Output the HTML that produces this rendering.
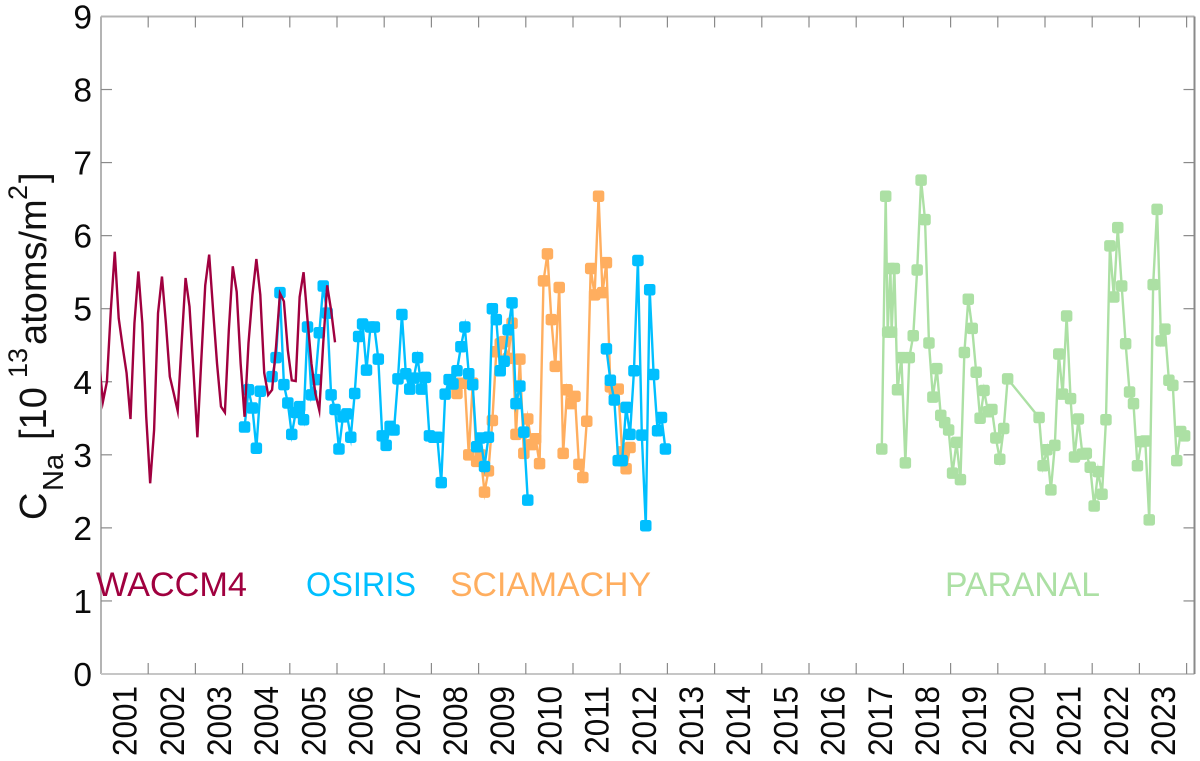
<!DOCTYPE html>
<html lang="en">
<head>
<meta charset="utf-8">
<title>Sodium column abundance chart</title>
<style>
html,body{margin:0;padding:0;background:#fff;width:1200px;height:761px;overflow:hidden}
svg{display:block}
text{font-family:"Liberation Sans",sans-serif}
</style>
</head>
<body>
<svg id="chart" xmlns="http://www.w3.org/2000/svg" width="1200" height="761" viewBox="0 0 1200 761">
  <defs>
    <clipPath id="plot-clip"><rect x="101" y="16" width="1094" height="658"></rect></clipPath>
  </defs>
  <g id="axes"></g>
  <g id="series" clip-path="url(#plot-clip)"></g>
  <text transform="translate(46,520) rotate(-90)" font-size="38" fill="#111">C<tspan font-size="29" x="29" dy="17">Na</tspan><tspan x="80" dy="-17">[10</tspan><tspan font-size="27" x="142" dy="-19">13</tspan><tspan x="175" dy="19">atoms/m</tspan><tspan font-size="27" x="320" dy="-19">2</tspan><tspan x="337" dy="19">]</tspan></text>
  <text x="96" y="596" font-size="34" fill="#A0003F" textLength="151" lengthAdjust="spacingAndGlyphs">WACCM4</text>
  <text x="306" y="596" font-size="34" fill="#00BFFF" textLength="110" lengthAdjust="spacingAndGlyphs">OSIRIS</text>
  <text x="450" y="596" font-size="34" fill="#FFAE5F" textLength="201" lengthAdjust="spacingAndGlyphs">SCIAMACHY</text>
  <text x="945" y="596" font-size="34" fill="#ACE0A4" textLength="155" lengthAdjust="spacingAndGlyphs">PARANAL</text>
</svg>
<script>
const yearLabels = [2001,2002,2003,2004,2005,2006,2007,2008,2009,2010,2011,2012,2013,2014,2015,2016,2017,2018,2019,2020,2021,2022,2023];
const yTickLabels = [0,1,2,3,4,5,6,7,8,9];

const waccmStartMonth = -1;
const waccmValues = [4.27,3.73,4.00,4.98,5.78,4.87,4.48,4.12,3.49,4.80,5.51,4.80,3.52,2.61,3.34,4.94,5.44,4.80,4.07,3.84,3.60,4.53,5.42,5.03,4.16,3.24,4.30,5.32,5.74,4.98,4.25,3.66,3.58,4.71,5.58,5.23,4.25,3.52,4.53,5.19,5.68,5.19,4.12,3.82,3.89,4.48,5.21,5.10,4.43,4.02,4.01,5.16,5.50,4.85,4.25,3.84,3.61,4.53,5.32,4.98,4.54];

const osirisStartMonth = 36;
const osirisValues = [3.38,3.89,3.64,3.09,3.87,null,null,4.07,4.33,5.22,3.96,3.71,3.28,3.58,3.66,3.48,4.75,3.82,4.03,4.67,5.31,4.94,3.82,3.62,3.08,3.52,3.56,3.24,3.84,4.62,4.79,4.16,4.75,4.75,4.31,3.26,3.13,3.39,3.34,4.04,4.92,4.11,3.90,4.05,4.33,3.90,4.06,3.26,3.24,3.24,2.62,3.83,4.03,3.97,4.15,4.48,4.75,4.11,3.96,3.11,3.23,2.84,3.24,5.00,4.85,4.15,4.28,4.71,5.08,3.70,3.94,3.31,2.38,null,null,null,null,null,null,null,null,null,null,null,null,null,null,null,null,null,null,null,4.45,4.02,3.75,2.92,2.92,3.65,3.28,4.15,5.66,3.27,2.03,5.26,4.10,3.33,3.51,3.08];

const sciamachyStartMonth = 90;
const sciamachyValues = [3.84,3.98,3.98,3.00,3.98,2.91,3.00,2.49,2.78,3.47,4.41,4.52,4.55,4.32,4.80,3.28,4.31,3.02,3.49,3.14,3.22,2.88,5.38,5.75,4.85,4.21,5.29,3.02,3.89,3.70,3.80,2.87,2.69,3.46,5.55,5.19,6.54,5.22,5.63,3.93,3.88,3.90,3.04,2.81,3.10];

const paranalMonths = [198,199,199.5,200.2,200.5,201.2,202,203,204,205,206,207,208,209,210,211,212,213,214,215,216,217,218,219,220,221,222,223,224,225,226,227,228,229,230,238,239,240,241,242,243,244,245,246,247,248,249,250,251,252,253,254,255,256,257,258,259,260,261,262,263,264,265,266,267,268,269,270,271,272,273,274,275];
const paranalValues = [3.08,6.54,4.68,5.55,4.68,5.55,3.89,4.33,2.89,4.33,4.63,5.53,6.76,6.22,4.53,3.79,4.18,3.54,3.44,3.34,2.75,3.17,2.66,4.40,5.13,4.73,4.13,3.50,3.88,3.59,3.62,3.23,2.94,3.36,4.04,3.51,2.85,3.07,2.52,3.13,4.38,3.83,4.90,3.77,2.97,3.49,3.01,3.02,2.83,2.30,2.77,2.46,3.48,5.86,5.16,6.11,5.31,4.52,3.86,3.70,2.85,3.18,3.19,2.11,5.33,6.36,4.56,4.72,4.02,3.95,2.92,3.32,3.26];

const NS = 'http://www.w3.org/2000/svg';
const axes = document.getElementById('axes');
const seriesRoot = document.getElementById('series');

function xYear(t){ return 101 + 47.2 * (t - 2001); }
function xMonth(m){ return xYear(2001 + (m + 0.5) / 12); }
function yVal(v){ return 674 - 73.06 * v; }

function mk(tag, attrs, parent){
  const el = document.createElementNS(NS, tag);
  for (const k in attrs) el.setAttribute(k, attrs[k]);
  parent.appendChild(el);
  return el;
}

// frame
const L = xYear(2001), R = 1194.5, T = yVal(9), B = yVal(0);
const frameLeft = mk('line', {x1:L,y1:T,x2:L,y2:B,stroke:'#b4b4b4','stroke-width':2}, axes);


const frameBottom = mk('line', {x1:L,y1:B,x2:R,y2:B,stroke:'#c6c6c6','stroke-width':2}, axes);


const frameTop = mk('line', {x1:L,y1:T,x2:R,y2:T,stroke:'#b4b4b4','stroke-width':2}, axes);


const frameRight = mk('line', {x1:R,y1:T,x2:R,y2:B,stroke:'#8a8a8a','stroke-width':2}, axes);



// y ticks
yTickLabels.forEach(function(v){
  const y = yVal(v);
  if (v > 0 && v < 9) {
    const t1 = mk('line', {x1:L,y1:y,x2:L+11,y2:y,stroke:'#8a8a8a','stroke-width':1.2}, axes);
    
    
    const t2 = mk('line', {x1:R-11,y1:y,x2:R,y2:y,stroke:'#8a8a8a','stroke-width':1.2}, axes);
    
    
  }
  const lab = mk('text', {x:92,y:y+12,'text-anchor':'end','font-size':33.5,fill:'#0a0a0a'}, axes);
  
  
  lab.textContent = v;
});

// x ticks and labels
yearLabels.forEach(function(yr){
  const xt = xYear(yr + 1);
  const t1 = mk('line', {x1:xt,y1:B,x2:xt,y2:B-11,stroke:'#8a8a8a','stroke-width':1.2}, axes);
  
  
  const t2 = mk('line', {x1:xt,y1:T,x2:xt,y2:T+11,stroke:'#8a8a8a','stroke-width':1.2}, axes);
  
  
  const bx = xYear(yr + 0.5) + 12;
  const lab = mk('text', {transform:'translate(' + bx + ',686) rotate(-90) scale(1,1.08)','text-anchor':'end','font-size':31.5,fill:'#0a0a0a'}, axes);
  
  
  lab.textContent = yr;
});

function drawSeries(name, color, months, values, markers, width){
  const g = mk('g', {}, seriesRoot);
  
  
  let d = '', pen = false;
  values.forEach(function(v, i){
    if (v === null) { pen = false; return; }
    d += (pen ? 'L' : 'M') + xMonth(months[i]).toFixed(2) + ' ' + yVal(v).toFixed(2);
    pen = true;
  });
  const line = mk('path', {d:d,fill:'none',stroke:color,'stroke-width':width,'stroke-linejoin':'miter','stroke-miterlimit':8}, g);
  
  
  if (!markers) return;
  values.forEach(function(v, i){
    if (v === null) return;
    const s = 11.5;
    const r = mk('rect', {x:xMonth(months[i])-s/2,y:yVal(v)-s/2,width:s,height:s,rx:2.5,ry:2.5,fill:color}, g);
    
    
  });
}

function monthsFrom(start, values){ return values.map(function(_, i){ return start + i; }); }

drawSeries('paranal', '#ACE0A4', paranalMonths, paranalValues, true, 2.4);
drawSeries('sciamachy', '#FFAE5F', monthsFrom(sciamachyStartMonth, sciamachyValues), sciamachyValues, true, 2.4);
drawSeries('osiris', '#00BFFF', monthsFrom(osirisStartMonth, osirisValues), osirisValues, true, 2.4);
drawSeries('waccm4', '#A0003F', monthsFrom(waccmStartMonth, waccmValues), waccmValues, false, 2.4);
</script>
</body>
</html>
